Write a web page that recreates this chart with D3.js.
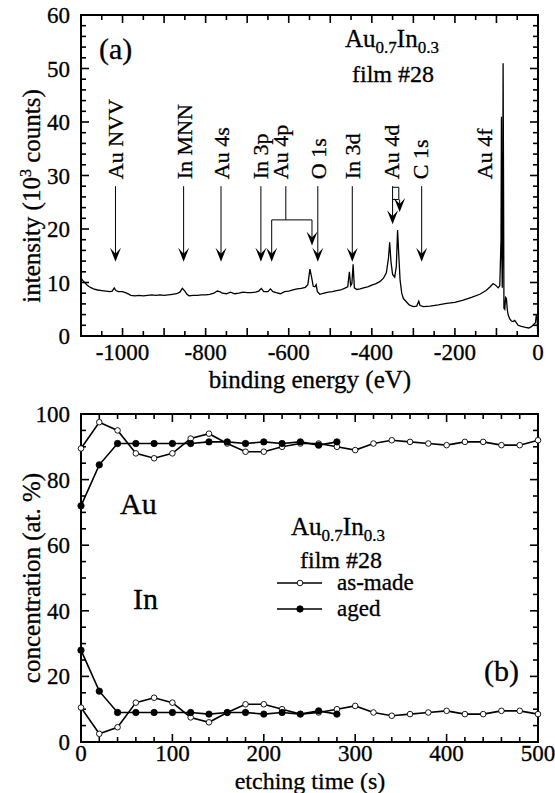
<!DOCTYPE html>
<html><head><meta charset="utf-8">
<script src="https://cdn.jsdelivr.net/npm/d3@7"></script>
<style>
body{margin:0;background:#fff;}
svg{display:block;font-family:"Liberation Serif","Times New Roman",Times,serif;}
text{fill:#000;stroke:#000;stroke-width:0.3px;}
</style></head>
<body>
<svg id="c" width="555" height="793"></svg>
<script>
// ---------- Panel (a): XPS survey spectrum ----------
const specEnergy = [-1100,-1095,-1090,-1085,-1080,-1075,-1070,-1060,-1050,-1040,-1030,-1025,-1020,-1016,-1010,-1000,-990,-980,-970,-960,-950,-940,-930,-920,-910,-900,-890,-880,-870,-862,-856,-850,-845,-840,-830,-820,-810,-800,-790,-780,-772,-766,-760,-750,-740,-730,-720,-710,-700,-690,-680,-672,-666,-660,-650,-644,-638,-630,-620,-610,-600,-590,-580,-570,-560,-554,-549,-545,-541,-537,-534,-531,-525,-515,-505,-495,-485,-475,-466,-458,-454,-451,-448,-445,-442,-436,-428,-420,-410,-400,-390,-380,-372,-365,-360,-357,-354,-350,-345,-341,-338,-335,-332,-328,-324,-318,-310,-300,-292,-287,-284,-275,-260,-240,-220,-200,-180,-160,-140,-125,-115,-108,-102,-96,-92,-89,-88,-87,-86,-85,-84,-83,-82,-80,-78,-76,-74,-72,-68,-64,-60,-56,-53,-48,-40,-30,-22,-15,-10,-6,-4,-2,-1];
const specCounts = [10.8,10.3,9.9,9.5,9.2,9.0,8.8,8.6,8.5,8.4,8.3,8.4,9.0,8.5,8.3,8.3,8.0,7.6,7.5,7.6,7.5,7.6,7.7,7.6,7.7,7.6,7.7,7.8,7.9,8.2,8.9,8.4,7.8,7.5,7.6,7.6,7.7,7.7,7.8,8.0,8.4,8.3,8.0,7.9,8.2,7.9,8.0,8.2,8.1,8.1,8.2,8.4,8.9,8.3,8.3,8.8,8.3,8.1,7.9,8.3,8.4,8.6,8.8,8.9,9.1,9.6,12.5,11.0,9.3,9.2,9.6,8.3,7.8,8.0,8.2,8.3,8.5,8.6,8.9,9.2,12.0,9.4,9.8,13.4,9.0,8.7,8.8,9.0,9.2,9.5,9.8,10.2,10.8,11.8,14.5,17.5,14.0,11.5,11.0,13.0,19.8,15.0,10.5,8.0,7.0,6.5,5.8,5.5,5.6,6.5,5.7,5.5,5.6,5.8,6.1,6.3,6.7,7.2,7.8,8.5,9.2,9.8,9.5,9.0,9.4,18,41,15,9,20,51,30,5.2,5.0,7.2,7.0,5.0,4.0,3.2,2.8,2.7,2.9,2.6,2.0,1.8,1.6,1.5,1.8,2.2,2.5,4.0,3.6,1.0];
const peakLabels = ["Au NVV","In MNN","Au 4s","In 3p","Au 4p","O 1s","In 3d","Au 4d","C 1s","Au 4f"];
const peakLabelEnergy = [-1017,-853,-763,-670,-620,-530,-447,-354,-284,-130];
const arrowEnergy = [-1017,-853,-763,-667,-641,-544,-530,-447,-350,-333,-280];
const arrowTip = [13.9,13.9,13.9,13.9,13.9,16.9,13.9,13.9,20.9,23.2,13.9];
const xTicksA = [-1000,-800,-600,-400,-200,0];
const yTicksA = [0,10,20,30,40,50,60];

// ---------- Panel (b): depth profile ----------
const timeAsMade = [0,20,40,60,80,100,120,140,160,180,200,220,240,260,280,300,320,340,360,380,400,420,440,460,480,500];
const auAsMade = [89.5,97.5,95,88,86.5,88,92.5,94,91,88.5,88.5,90,91,91,90,89,91,92,91.5,91,90.5,91.5,91.5,90.5,90.5,92];
const inAsMade = [10.5,2.5,4.5,12,13.5,12,7.5,6,9,11.5,11.5,10,8.5,9,10,11,9,8,8.5,9,9.5,8.5,8.5,9.5,9.5,8.5];
const timeAged = [0,20,40,60,80,100,120,140,160,180,200,220,240,260,280];
const auAged = [72,84.5,91,91,91,91,91,91.5,91.5,91,91.5,91,91.5,90.5,91.5];
const inAged = [28,15.5,9,9,9,9,9,8.5,9,9,8.5,9,8.5,9.5,8.5];
const xTicksB = [0,100,200,300,400,500];
const yTicksB = [0,20,40,60,80,100];

const svg = d3.select("#c");
const FS = 23;

function frame(g, x, y, xMinor, yMinor, xMajor, yMajor, xLabels, yLabels, fmtX, xLabOff){
  const [x0,x1] = x.range(), [y1,y0] = y.range();
  const tk = g.append("g").attr("stroke","#000").attr("stroke-width",1.6);
  xMinor.forEach(v=>{
    const L = xMajor.includes(v)?8:5;
    tk.append("line").attr("x1",x(v)).attr("x2",x(v)).attr("y1",y1).attr("y2",y1-L);
    tk.append("line").attr("x1",x(v)).attr("x2",x(v)).attr("y1",y0).attr("y2",y0+L);
  });
  yMinor.forEach(v=>{
    const L = yMajor.includes(v)?8:5;
    tk.append("line").attr("y1",y(v)).attr("y2",y(v)).attr("x1",x0).attr("x2",x0+L);
    tk.append("line").attr("y1",y(v)).attr("y2",y(v)).attr("x1",x1).attr("x2",x1-L);
  });
  g.append("rect").attr("x",x0).attr("y",y0).attr("width",x1-x0).attr("height",y1-y0)
    .attr("fill","none").attr("stroke","#000").attr("stroke-width",2);
  xLabels.forEach(v=>{
    g.append("text").attr("x",x(v)).attr("y",y1+xLabOff).attr("text-anchor","middle")
      .attr("font-size",FS).text(fmtX(v));
  });
  yLabels.forEach(v=>{
    g.append("text").attr("x",x0-11).attr("y",y(v)+8).attr("text-anchor","end")
      .attr("font-size",FS).text(v);
  });
}

// ===== Panel (a)
const xA = d3.scaleLinear().domain([-1100,0]).range([81,538]);
const yA = d3.scaleLinear().domain([0,60]).range([336,15]);
const gA = svg.append("g");
gA.append("defs").append("clipPath").attr("id","clipA").append("rect")
  .attr("x",81).attr("y",15).attr("width",457).attr("height",321);
gA.append("path").datum(specEnergy.map((e,i)=>[e,specCounts[i]]))
  .attr("clip-path","url(#clipA)")
  .attr("d",d3.line().x(d=>xA(d[0])).y(d=>yA(d[1])))
  .attr("fill","none").attr("stroke","#000").attr("stroke-width",1.3);
frame(gA,xA,yA,d3.range(-1100,1,50),d3.range(0,61,2),d3.range(-1100,1,100),yTicksA,xTicksA,yTicksA,
  v=> v===0?"0":"-"+Math.abs(v), 24);

const arrowTop = 28;
function head(g,x,y){
  g.append("path").attr("d",`M${x},${y} L${x-5.5},${y-14} L${x},${y-8} L${x+5.5},${y-14} Z`).attr("fill","#000");
}
const gArr = gA.append("g");
arrowEnergy.forEach((e,i)=>{
  const tip = arrowTip[i];
  let top = arrowTop;
  if (e===-641 || e===-544) top = 21.7;
  if (e===-333) top = 25.5;
  gArr.append("line").attr("x1",xA(e)).attr("x2",xA(e)).attr("y1",yA(top)).attr("y2",yA(tip)-6)
    .attr("stroke","#000").attr("stroke-width",1);
  head(gArr,xA(e),yA(tip));
});
gArr.append("path").attr("d",`M${xA(-641)},${yA(21.7)} H${xA(-544)} M${xA(-607)},${yA(21.7)} V${yA(arrowTop)}`)
  .attr("fill","none").attr("stroke","#000").attr("stroke-width",1);
gArr.append("path").attr("d",`M${xA(-350)},${yA(27.8)} H${xA(-335)} V${yA(25.5)} H${xA(-350)}`)
  .attr("fill","none").attr("stroke","#000").attr("stroke-width",1);

peakLabels.forEach((t,i)=>{
  const x = xA(peakLabelEnergy[i]) + 8;
  gA.append("text").attr("transform",`translate(${x},${yA(29.3)}) rotate(-90)`)
    .attr("font-size",22).text(t);
});

gA.append("text").attr("x",99).attr("y",59).attr("font-size",30).text("(a)");
const tA = gA.append("text").attr("x",345).attr("y",47).attr("font-size",25);
tA.append("tspan").text("Au");
tA.append("tspan").attr("font-size",17).attr("dy",6).text("0.7");
tA.append("tspan").attr("dy",-6).text("In");
tA.append("tspan").attr("font-size",17).attr("dy",6).text("0.3");
gA.append("text").attr("x",393).attr("y",82).attr("text-anchor","middle").attr("font-size",24).text("film #28");

gA.append("text").attr("x",310).attr("y",388).attr("text-anchor","middle").attr("font-size",25).text("binding energy (eV)");
const yt = gA.append("text").attr("transform","translate(40,196) rotate(-90)").attr("text-anchor","middle").attr("font-size",25);
yt.append("tspan").text("intensity (10");
yt.append("tspan").attr("font-size",16).attr("dy",-9).text("3");
yt.append("tspan").attr("dy",9).text(" counts)");

// ===== Panel (b)
const xB = d3.scaleLinear().domain([0,500]).range([81,538]);
const yB = d3.scaleLinear().domain([0,100]).range([742,414]);
const gB = svg.append("g");
frame(gB,xB,yB,d3.range(0,501,20),d3.range(0,101,5),xTicksB,yTicksB,xTicksB,yTicksB,v=>String(v), 19);

const line = d3.line().x(d=>xB(d[0])).y(d=>yB(d[1]));
function series(ts, vs, filled){
  const data = ts.map((t,i)=>[t,vs[i]]);
  gB.append("path").datum(data).attr("d",line).attr("fill","none").attr("stroke","#000").attr("stroke-width",1.6);
  gB.selectAll(null).data(data).enter().append("circle")
    .attr("cx",d=>xB(d[0])).attr("cy",d=>yB(d[1])).attr("r",filled?3.2:2.8)
    .attr("fill",filled?"#000":"#fff").attr("stroke","#000").attr("stroke-width",filled?0.8:0.9);
}
series(timeAsMade,auAsMade,false);
series(timeAsMade,inAsMade,false);
series(timeAged,auAged,true);
series(timeAged,inAged,true);

gB.append("text").attr("x",120).attr("y",514).attr("font-size",30).text("Au");
gB.append("text").attr("x",133).attr("y",609).attr("font-size",30).text("In");
const tB = gB.append("text").attr("x",291).attr("y",535).attr("font-size",25);
tB.append("tspan").text("Au");
tB.append("tspan").attr("font-size",17).attr("dy",6).text("0.7");
tB.append("tspan").attr("dy",-6).text("In");
tB.append("tspan").attr("font-size",17).attr("dy",6).text("0.3");
gB.append("text").attr("x",341).attr("y",568).attr("text-anchor","middle").attr("font-size",24).text("film #28");
[["as-made",false,583],["aged",true,609]].forEach(([lab,filled,y])=>{
  gB.append("line").attr("x1",277).attr("x2",322).attr("y1",y).attr("y2",y).attr("stroke","#000").attr("stroke-width",1.6);
  gB.append("circle").attr("cx",300).attr("cy",y).attr("r",filled?3.2:2.8)
    .attr("fill",filled?"#000":"#fff").attr("stroke","#000").attr("stroke-width",0.9);
  gB.append("text").attr("x",337).attr("y",y+7).attr("font-size",23).text(lab);
});
gB.append("text").attr("x",484).attr("y",681).attr("font-size",30).text("(b)");
gB.append("text").attr("x",310).attr("y",789).attr("text-anchor","middle").attr("font-size",24).text("etching time (s)");
gB.append("text").attr("transform","translate(40,578) rotate(-90)").attr("text-anchor","middle").attr("font-size",25).text("concentration (at. %)");
</script>
</body></html>
